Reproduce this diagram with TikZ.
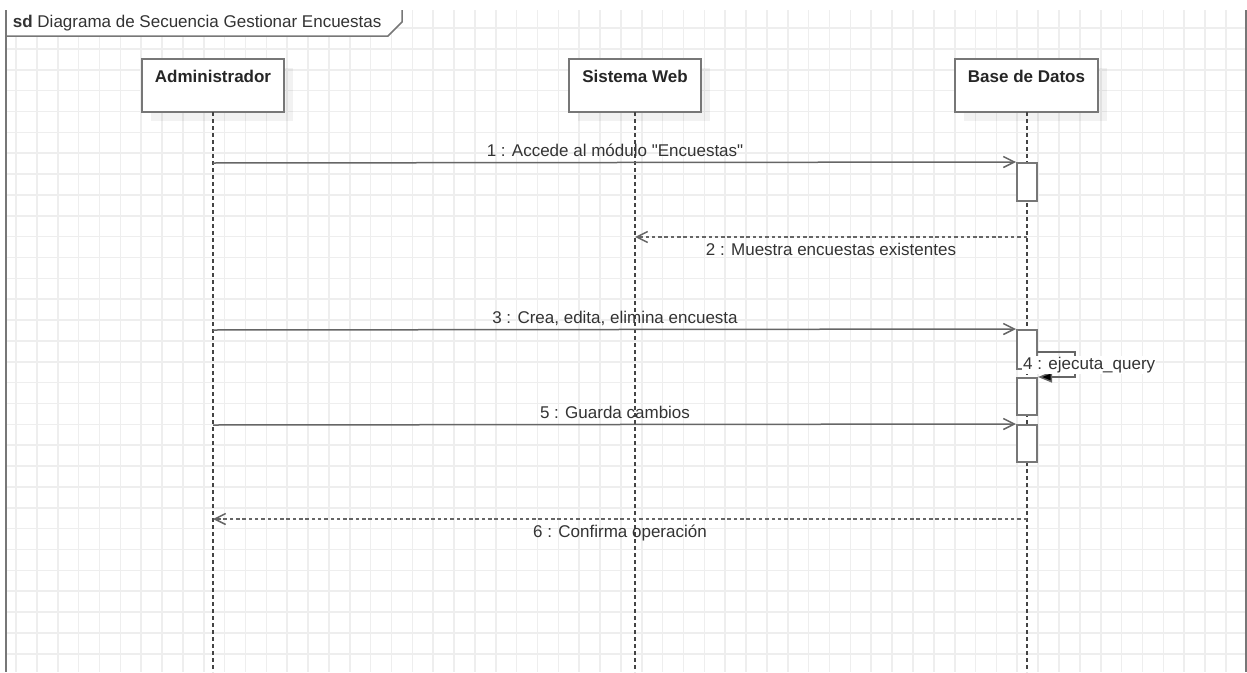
\documentclass[tikz,border=0pt]{standalone}
\usepackage{fontspec}
\setmainfont{Liberation Sans}[Ligatures=TeXOff]
\usetikzlibrary{arrows.meta,shadows}
\definecolor{gridc}{HTML}{EEEEEE}
\definecolor{edge}{HTML}{777777}
\definecolor{msg}{HTML}{666666}
\definecolor{txt}{HTML}{333333}
\definecolor{life}{HTML}{444444}

\begin{document}
\begin{tikzpicture}[x=1pt,y=-1pt,
  every node/.style={text=txt, font=\fontsize{17}{20}\selectfont},
  head/.style={draw=edge, line width=2pt, fill=white, minimum width=#1,
    minimum height=53pt, inner sep=0pt,
    drop shadow={shadow xshift=9pt, shadow yshift=-9pt, fill=black, opacity=0.05}},
  headtxt/.style={anchor=base, inner sep=0pt, font=\fontsize{17}{20}\selectfont\bfseries, text=black!85},
  lifeline/.style={draw=life, line width=1.4pt, dash pattern=on 4pt off 3pt},
  actbox/.style={draw=edge, line width=2pt, fill=white, minimum width=20pt,
    minimum height=#1, inner sep=0pt},
  call/.style={draw=msg, line width=1.5pt, -{Straight Barb[length=11pt,width=11pt]}},
  reply/.style={draw=msg, line width=1.5pt, dash pattern=on 3.5pt off 2.8pt,
    -{Straight Barb[length=11pt,width=11pt]}},
  selfcall/.style={draw=msg, line width=1.5pt, -{Triangle[length=14pt,width=11pt,fill=black]}},
  msglabel/.style={anchor=base, inner sep=0pt},
]
\useasboundingbox (0,0) rectangle (1247,672);

% background grid inside the frame
\begin{scope}
  \clip (6,10) rectangle (1246,672);
  \foreach \k in {0,...,58} {
    \pgfmathsetmacro{\gx}{16+20.86*\k}
    \draw[gridc, line width=1.6pt] (\gx,10) -- (\gx,672);
  }
  \foreach \k in {0,...,30} {
    \pgfmathsetmacro{\gy}{28+20.86*\k}
    \draw[gridc, line width=1.6pt] (6,\gy) -- (1246,\gy);
  }
\end{scope}

% frame with its name tab
\fill[white] (6,10) -- (402,10) -- (402,22) -- (388,36) -- (6,36) -- cycle;
\draw[edge, line width=1.5pt] (402,10) -- (402,22) -- (388,36) -- (6,36);
\draw[edge, line width=2pt] (6,10) -- (6,672);
\draw[edge, line width=2pt] (1246,10) -- (1246,672);
\node[anchor=base west, inner sep=0pt] (title) at (12.7,27)
  {\textbf{sd}\ Diagrama de Secuencia Gestionar Encuestas};

% lifeline heads
\node[head=142pt] (admin) at (213,85.5) {};
\node[head=132pt] (web) at (635,85.5) {};
\node[head=143pt] (db) at (1026.5,85.5) {};
\node[headtxt] (adminname) at (213,82) {Administrador};
\node[headtxt] (webname) at (635,82) {Sistema Web};
\node[headtxt] (dbname) at (1026.5,82) {Base de Datos};

% lifeline ends
\coordinate (adminend) at (213,672);
\coordinate (webend) at (635,672);
\coordinate (dbend) at (1027,672);
\draw[lifeline] (213,112) -- (adminend);
\draw[lifeline] (635,112) -- (webend);
\draw[lifeline] (1027,112) -- (dbend);

% activations on the database lifeline
\node[actbox=38pt] (act1) at (1027,182) {};
\node[actbox=39pt] (act3a) at (1027,349.5) {};
\node[actbox=37pt] (act3b) at (1027,396.5) {};
\node[actbox=37pt] (act5) at (1027,443.5) {};

% message end points on the lifelines
\coordinate (m1s) at (213,163);
\coordinate (m2s) at (1027,237);
\coordinate (m2e) at (635,237);
\coordinate (m3s) at (213,330);
\coordinate (m4s) at (1037,352);
\coordinate (m5s) at (213,425);
\coordinate (m6s) at (1027,519);
\coordinate (m6e) at (213,519);

% messages
\draw[call] (m1s) -- (act1.north west);
\draw[reply] (m2s) -- (m2e);
\draw[call] (m3s) -- (act3a.north west);
\draw[selfcall] (m4s) -- ++(38,0) |- (act3b.north east);
\draw[call] (m5s) -- (act5.north west);
\draw[reply] (m6s) -- (m6e);

% message labels
\node[msglabel] (l1) at (615,156) {1 : Accede al módulo "Encuestas"};
\node[msglabel] (l2) at (831,255) {2 : Muestra encuestas existentes};
\node[msglabel] (l3) at (615,323.5) {3 : Crea, edita, elimina encuesta};
\node[anchor=base west, inner sep=1pt, fill=white] (l4) at (1022,369) {4 : ejecuta\_query};
\node[msglabel] (l5) at (615,418) {5 : Guarda cambios};
\node[msglabel] (l6) at (620,537.5) {6 : Confirma operación};
\end{tikzpicture}
\end{document}
